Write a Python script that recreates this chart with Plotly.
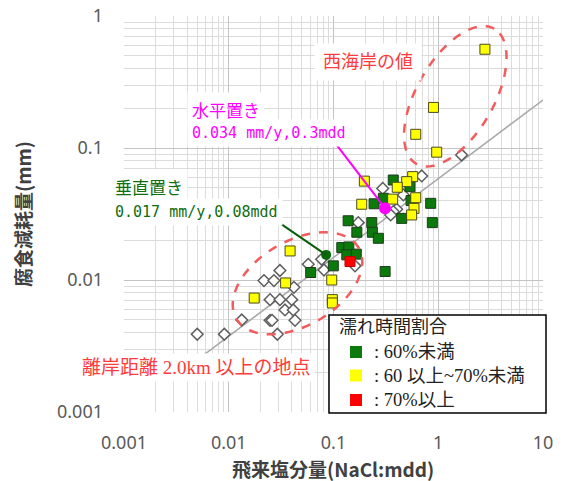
import math
import plotly.graph_objects as go

# ---------------- data ----------------
green_x = [0.372, 0.537, 0.299, 0.244, 0.55, 0.847, 0.448, 0.878, 0.138, 0.232,
           0.167, 0.235, 0.268, 0.12, 0.14, 0.134, 0.165, 0.311, 0.0606, 0.0996]
green_y = [0.0572, 0.0509, 0.0416, 0.0378, 0.040, 0.0381, 0.0293, 0.0272, 0.0281, 0.0272,
           0.0230, 0.0230, 0.0207, 0.0176, 0.0178, 0.0155, 0.0157, 0.0116, 0.0114, 0.0128]

yellow_x = [2.79, 0.90, 0.61, 0.966, 0.197, 0.57, 0.50, 0.406, 0.186, 0.367,
            0.61, 0.587, 0.557, 0.0385, 0.0349, 0.0175, 0.0962, 0.0975, 0.0975]
yellow_y = [0.56, 0.203, 0.127, 0.093, 0.0561, 0.0607, 0.0556, 0.0504, 0.0375, 0.041,
            0.042, 0.0349, 0.0311, 0.0166, 0.0095, 0.0073, 0.0100, 0.0071, 0.0067]

red_x = [0.1437]
red_y = [0.0138]

far_x = [1.67, 0.695, 0.295, 0.464, 0.401, 0.372, 0.3515, 0.1725, 0.0574, 0.0771,
         0.0811, 0.0308, 0.1604, 0.0217, 0.0270, 0.0419, 0.0248, 0.0308, 0.0399, 0.0344,
         0.0413, 0.0133, 0.0248, 0.0259, 0.0429, 0.0050, 0.00907, 0.0291]
far_y = [0.0885, 0.0614, 0.0494, 0.0441, 0.0343, 0.033, 0.0311, 0.0272, 0.01315, 0.01435,
         0.0119, 0.0118, 0.0128, 0.0099, 0.0099, 0.0088, 0.0071, 0.0071, 0.0071, 0.00593,
         0.00593, 0.00498, 0.00495, 0.00495, 0.00495, 0.00388, 0.00388, 0.00388]

trend_x = [0.0053, 10]
trend_y = [0.00257, 0.231]

horiz_pt = (0.31, 0.035)     # 水平置き
vert_pt = (0.085, 0.0155)    # 垂直置き

tick_vals_x = [0.001, 0.01, 0.1, 1, 10]
tick_text_x = ["0.001", "0.01", "0.1", "1", "10"]
tick_vals_y = [0.001, 0.01, 0.1, 1]
tick_text_y = ["0.001", "0.01", "0.1", "1"]

legend_title = "濡れ時間割合"
legend_labels = [": 60%未満", ": 60 以上~70%未満", ": 70%以上"]

# ---------------- layout geometry ----------------
W, H = 568, 481
ML, MR, MT, MB = 124, 25, 16, 69
PW, PH = W - ML - MR, H - MT - MB
XR = [-3, 1]
YR = [-3, 0]


def px2paper(px, py):
    return ((px - ML) / PW, (H - MB - py) / PH)


def d2paper(x, y):
    return ((math.log10(x) - XR[0]) / (XR[1] - XR[0]),
            (math.log10(y) - YR[0]) / (YR[1] - YR[0]))


def ellipse_path(cx, cy, a, b, ang_deg, n=90):
    th = math.radians(ang_deg)
    pts = []
    for i in range(n):
        t = 2 * math.pi * i / n
        ex, ey = a * math.cos(t), b * math.sin(t)
        px = cx + ex * math.cos(th) - ey * math.sin(th)
        py = cy - (ex * math.sin(th) + ey * math.cos(th))
        fx, fy = px2paper(px, py)
        pts.append(f"{fx:.5f},{fy:.5f}")
    return "M" + " L".join(pts) + " Z"


GREEN = "#0B7A0B"
YELLOW = "#FFFF00"
RED = "#FF0000"
MAG = "#FF00FF"
DGREEN = "#0F6E0F"
LRED = "#FF3B3B"

fig = go.Figure()

fig.add_trace(go.Scatter(x=trend_x, y=trend_y, mode="lines",
                         line=dict(color="#A8A8A8", width=1.5), hoverinfo="skip"))
fig.add_trace(go.Scatter(x=far_x, y=far_y, mode="markers",
                         marker=dict(symbol="diamond", size=9, color="white",
                                     line=dict(color="#5E5E5E", width=1.5))))
fig.add_trace(go.Scatter(x=green_x, y=green_y, mode="markers",
                         marker=dict(symbol="square", size=10, color=GREEN,
                                     line=dict(color="#1E3B1E", width=1))))
fig.add_trace(go.Scatter(x=yellow_x, y=yellow_y, mode="markers",
                         marker=dict(symbol="square", size=10, color=YELLOW,
                                     line=dict(color="#4A4A20", width=1))))
fig.add_trace(go.Scatter(x=red_x, y=red_y, mode="markers",
                         marker=dict(symbol="square", size=10, color=RED,
                                     line=dict(color="#C00000", width=1))))
fig.add_trace(go.Scatter(x=[horiz_pt[0]], y=[horiz_pt[1]], mode="markers",
                         marker=dict(symbol="circle", size=12, color=MAG)))
fig.add_trace(go.Scatter(x=[vert_pt[0]], y=[vert_pt[1]], mode="markers",
                         marker=dict(symbol="circle", size=10, color="#0A6A0A")))

shapes = []
# dashed ellipses
for (cx, cy, a, b, ang) in [(297.5, 283.3, 70.7, 42.4, 30), (455.3, 96.3, 78, 38.4, 60)]:
    shapes.append(dict(type="path", xref="paper", yref="paper",
                       path=ellipse_path(cx, cy, a, b, ang),
                       line=dict(color="#F25C5C", width=2.5, dash="dash"), layer="above"))

# pointer lines (from text block to the highlighted points)
for pt, (dx, dy), col in [(horiz_pt, (-49, -64), MAG), (vert_pt, (-54, -37), "#0A5E0A")]:
    fx, fy = d2paper(*pt)
    shapes.append(dict(type="line", xref="paper", yref="paper",
                       x0=fx + dx / PW, y0=fy - dy / PH, x1=fx, y1=fy,
                       line=dict(color=col, width=2), layer="above"))

# legend box
lx0, ly0 = px2paper(329, 315)
lx1, ly1 = px2paper(546, 413)
shapes.append(dict(type="rect", xref="paper", yref="paper", x0=lx0, y0=ly1, x1=lx1, y1=ly0,
                   fillcolor="white", line=dict(color="black", width=1.5), layer="above"))
leg_cols = [GREEN, YELLOW, RED]
leg_rows = [352, 375.5, 400]
for col, ry in zip(leg_cols, leg_rows):
    a0 = px2paper(350, ry - 6)
    a1 = px2paper(362, ry + 6)
    shapes.append(dict(type="rect", xref="paper", yref="paper",
                       x0=a0[0], y0=a1[1], x1=a1[0], y1=a0[1],
                       fillcolor=col, line=dict(width=0), layer="above"))

annotations = []


def ann(text, px, py, size, color, family, xanchor="left", bg=None, pad=1, **kw):
    fx, fy = px2paper(px, py)
    d = dict(text=text, x=fx, y=fy, xref="paper", yref="paper", showarrow=False,
             xanchor=xanchor, yanchor="middle",
             font=dict(size=size, color=color, family=family), borderpad=pad)
    if bg:
        d["bgcolor"] = bg
    d.update(kw)
    annotations.append(d)


SERIF = "Liberation Serif, Noto Sans CJK JP"
GOTH = "Noto Sans CJK JP"
MONO = "DejaVu Sans Mono, Noto Sans CJK JP"

ann("西海岸の値", 368, 62, 18, LRED, SERIF, xanchor="center", bg="white", pad=8)
ann("水平置き", 187, 110, 17, MAG, GOTH, bg="white", pad=4)
ann("0.034 mm/y,0.3mdd", 187, 133, 15, MAG, MONO, bg="white", pad=4)
ann("垂直置き", 110, 187, 17, DGREEN, GOTH, bg="white", pad=4)
ann("0.017 mm/y,0.08mdd", 110, 211.5, 15, DGREEN, MONO, bg="white", pad=4)
ann("離岸距離 2.0km 以上の地点", 78, 367, 19, LRED, SERIF, bg="white", pad=3)

ann(legend_title, 337, 327, 18, "#222222", SERIF)
for lab, ry in zip(legend_labels, leg_rows):
    ann(lab, 372, ry, 18.5, "#222222", SERIF)

ann("飛来塩分量(NaCl:mdd)", 333, 468, 19, "#404040", GOTH, xanchor="center")
annotations[-1]["font"]["weight"] = "bold"
ann("腐食減耗量(mm)", 22, 214, 19, "#404040", GOTH, xanchor="center", textangle=-90)
annotations[-1]["font"]["weight"] = "bold"

axis_common = dict(type="log", showline=False, zeroline=False, ticks="",
                   gridcolor="#C4C4C4", gridwidth=1,
                   tickfont=dict(size=18, color="#595959", family="Noto Sans, Open Sans"),
                   minor=dict(dtick="D1", showgrid=True, gridcolor="#DCDCDC", gridwidth=1, ticks=""))

fig.update_xaxes(range=XR, tickmode="array", tickvals=tick_vals_x, ticktext=tick_text_x,
                 ticklabelstandoff=18, automargin=False, **axis_common)
fig.update_yaxes(range=YR, tickmode="array", tickvals=tick_vals_y, ticktext=tick_text_y,
                 ticklabelstandoff=20, automargin=False, **axis_common)

fig.update_layout(width=W, height=H, margin=dict(l=ML, r=MR, t=MT, b=MB, autoexpand=False),
                  paper_bgcolor="white", plot_bgcolor="white", showlegend=False,
                  shapes=shapes, annotations=annotations)

fig.write_html("out.html", config={"displayModeBar": False},
               post_script="document.body.style.margin='0';document.body.style.overflow='hidden';")
